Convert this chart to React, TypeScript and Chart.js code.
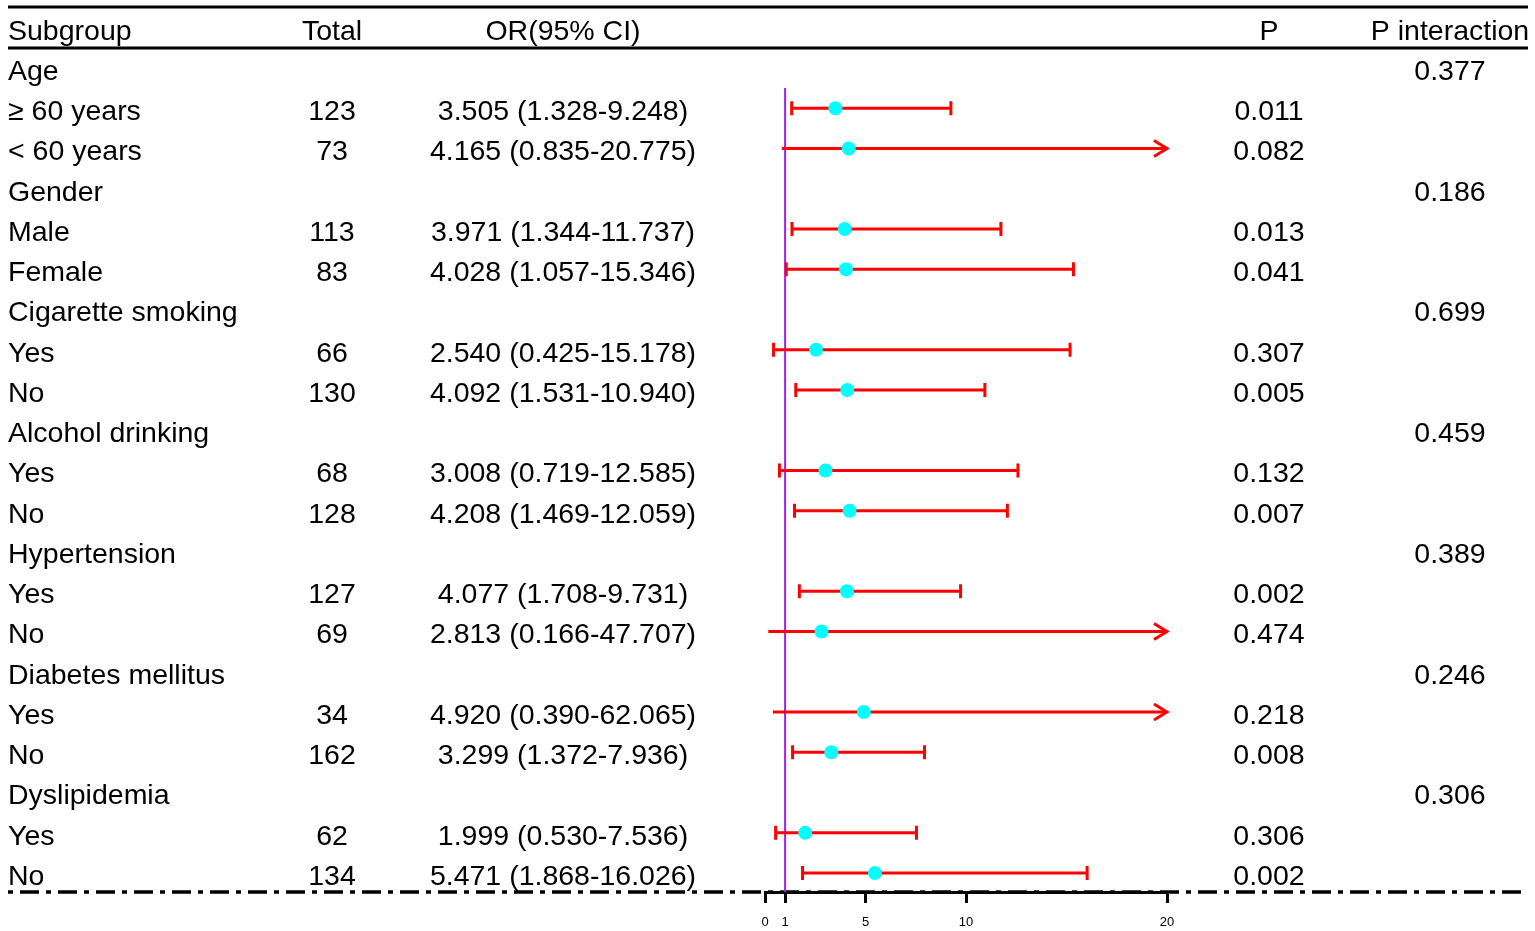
import React, { useEffect, useRef } from 'react';
import { Chart, registerables } from 'chart.js';

Chart.register(...registerables);

const SUBGROUPS = ['Age', '≥ 60 years', '< 60 years', 'Gender', 'Male', 'Female', 'Cigarette smoking', 'Yes', 'No', 'Alcohol drinking', 'Yes', 'No', 'Hypertension', 'Yes', 'No', 'Diabetes mellitus', 'Yes', 'No', 'Dyslipidemia', 'Yes', 'No'];
const TOTALS = [null, 123, 73, null, 113, 83, null, 66, 130, null, 68, 128, null, 127, 69, null, 34, 162, null, 62, 134];
const ODDS = [null, 3.505, 4.165, null, 3.971, 4.028, null, 2.540, 4.092, null, 3.008, 4.208, null, 4.077, 2.813, null, 4.920, 3.299, null, 1.999, 5.471];
const LOWER = [null, 1.328, 0.835, null, 1.344, 1.057, null, 0.425, 1.531, null, 0.719, 1.469, null, 1.708, 0.166, null, 0.390, 1.372, null, 0.530, 1.868];
const UPPER = [null, 9.248, 20.775, null, 11.737, 15.346, null, 15.178, 10.940, null, 12.585, 12.059, null, 9.731, 47.707, null, 62.065, 7.936, null, 7.536, 16.026];
const P_VALUES = [null, '0.011', '0.082', null, '0.013', '0.041', null, '0.307', '0.005', null, '0.132', '0.007', null, '0.002', '0.474', null, '0.218', '0.008', null, '0.306', '0.002'];
const P_INTERACTION = ['0.377', null, null, '0.186', null, null, '0.699', null, null, '0.459', null, null, '0.389', null, null, '0.246', null, null, '0.306', null, null];
const HEADERS = ['Subgroup', 'Total', 'OR(95% CI)', 'P', 'P interaction'];
const X_TICKS = [0, 1, 5, 10, 20];
const X_MIN = 0;
const X_MAX = 20;
const REF_VALUE = 1;

const FONT = '"Liberation Sans", Arial, Helvetica, sans-serif';
const TEXT_SIZE = 28.5;
const TEXT_DY = 2;
const W = 1535;
const H = 931;

// column layout (page px)
const COL_SUBGROUP_X = 8;
const COL_TOTAL_X = 332;
const COL_OR_X = 563;
const COL_P_X = 1269;
const COL_PINT_X = 1450;
const RULE_LEFT = 8;
const RULE_RIGHT = 1528;

const forestPlugin = {
  id: 'forestTable',
  beforeDraw(chart: any) {
    const { ctx, chartArea, scales } = chart;
    const y = scales.y;
    ctx.save();
    // header rules
    ctx.strokeStyle = '#000';
    ctx.lineWidth = 3;
    ctx.beginPath();
    ctx.moveTo(RULE_LEFT, 7);
    ctx.lineTo(RULE_RIGHT, 7);
    ctx.moveTo(RULE_LEFT, 48);
    ctx.lineTo(RULE_RIGHT, 48);
    ctx.stroke();
    // dash-dot bottom rule
    ctx.lineWidth = 3.5;
    ctx.setLineDash([5, 7, 19, 7]);
    ctx.beginPath();
    ctx.moveTo(RULE_LEFT, chartArea.bottom);
    ctx.lineTo(RULE_RIGHT, chartArea.bottom);
    ctx.stroke();
    ctx.setLineDash([]);

    // text
    ctx.fillStyle = '#000';
    ctx.font = `${TEXT_SIZE}px ${FONT}`;
    ctx.textBaseline = 'middle';
    const hy = y.getPixelForValue(-1) + TEXT_DY;
    ctx.textAlign = 'left';
    ctx.fillText(HEADERS[0], COL_SUBGROUP_X, hy);
    ctx.textAlign = 'center';
    ctx.fillText(HEADERS[1], COL_TOTAL_X, hy);
    ctx.fillText(HEADERS[2], COL_OR_X, hy);
    ctx.fillText(HEADERS[3], COL_P_X, hy);
    ctx.fillText(HEADERS[4], COL_PINT_X, hy);

    SUBGROUPS.forEach((name, i) => {
      const py = y.getPixelForValue(i) + TEXT_DY;
      ctx.textAlign = 'left';
      ctx.fillText(name, COL_SUBGROUP_X, py);
      ctx.textAlign = 'center';
      if (TOTALS[i] != null) ctx.fillText(String(TOTALS[i]), COL_TOTAL_X, py);
      if (ODDS[i] != null) {
        const s = `${(ODDS[i] as number).toFixed(3)} (${(LOWER[i] as number).toFixed(3)}-${(UPPER[i] as number).toFixed(3)})`;
        ctx.fillText(s, COL_OR_X, py);
      }
      if (P_VALUES[i] != null) ctx.fillText(P_VALUES[i] as string, COL_P_X, py);
      if (P_INTERACTION[i] != null) ctx.fillText(P_INTERACTION[i] as string, COL_PINT_X, py);
    });
    ctx.restore();
  },
  beforeDatasetsDraw(chart: any) {
    const { ctx, chartArea, scales } = chart;
    const x = scales.x;
    const y = scales.y;
    ctx.save();
    // reference line
    ctx.strokeStyle = '#A020F0';
    ctx.lineWidth = 2;
    ctx.beginPath();
    const rx = x.getPixelForValue(REF_VALUE);
    ctx.moveTo(rx, y.getPixelForValue(0.45));
    ctx.lineTo(rx, chartArea.bottom);
    ctx.stroke();

    // confidence intervals
    ctx.strokeStyle = '#FF0000';
    ctx.lineWidth = 3;
    ctx.lineCap = 'butt';
    SUBGROUPS.forEach((_, i) => {
      if (ODDS[i] == null) return;
      const lo = LOWER[i] as number;
      const hi = UPPER[i] as number;
      const py = y.getPixelForValue(i) - 2;
      const x0 = x.getPixelForValue(Math.max(lo, X_MIN));
      const over = hi > X_MAX;
      const x1 = x.getPixelForValue(Math.min(hi, X_MAX));
      ctx.beginPath();
      ctx.moveTo(x0, py);
      ctx.lineTo(x1, py);
      ctx.stroke();
      if (over) {
        ctx.beginPath();
        ctx.moveTo(x1 - 13, py - 8);
        ctx.lineTo(x1, py);
        ctx.lineTo(x1 - 13, py + 8);
        ctx.stroke();
      } else {
        ctx.beginPath();
        ctx.moveTo(x0, py - 7);
        ctx.lineTo(x0, py + 7);
        ctx.moveTo(x1, py - 7);
        ctx.lineTo(x1, py + 7);
        ctx.stroke();
      }
    });
    ctx.restore();
  },
};

export default function App() {
  const ref = useRef<HTMLCanvasElement>(null);
  useEffect(() => {
    if (!ref.current) return;
    const points = SUBGROUPS.map((_, i) => (ODDS[i] == null ? null : { x: ODDS[i] as number, y: i - 0.05 })).filter(Boolean) as { x: number; y: number }[];
    const chart = new Chart(ref.current, {
      type: 'scatter',
      data: {
        datasets: [
          {
            data: points,
            pointRadius: 7,
            pointHoverRadius: 7,
            pointBackgroundColor: '#00FFFF',
            pointBorderWidth: 0,
            pointBorderColor: '#00FFFF',
            clip: false as any,
          },
        ],
      },
      options: {
        animation: false,
        responsive: false,
        devicePixelRatio: 1,
        layout: { padding: { left: 765, right: W - 1167, top: 7, bottom: 0 } },
        plugins: { legend: { display: false }, tooltip: { enabled: false } },
        events: [],
        scales: {
          x: {
            type: 'linear',
            min: X_MIN,
            max: X_MAX,
            position: 'bottom',
            afterBuildTicks: (s: any) => {
              s.ticks = X_TICKS.map((v) => ({ value: v }));
            },
            afterFit: (s: any) => {
              s.height = H - 892;
            },
            grid: {
              display: true,
              drawOnChartArea: false,
              drawTicks: true,
              tickLength: 11,
              tickWidth: 3,
              tickColor: '#000',
            },
            border: { display: true, color: '#000', width: 3 },
            ticks: {
              font: { size: 13, family: FONT },
              color: '#000',
              padding: 12,
              maxRotation: 0,
              autoSkip: false,
              callback: (v: any) => String(v),
            },
          },
          y: {
            type: 'linear',
            display: false,
            reverse: true,
            min: -1.565,
            max: 20.42,
          },
        },
      },
      plugins: [forestPlugin],
    });
    return () => chart.destroy();
  }, []);
  return (
    <div style={{ position: 'absolute', left: 0, top: 0, width: W, height: H, background: '#fff' }}>
      <canvas ref={ref} width={W} height={H} style={{ width: W, height: H, display: 'block' }} />
    </div>
  );
}
